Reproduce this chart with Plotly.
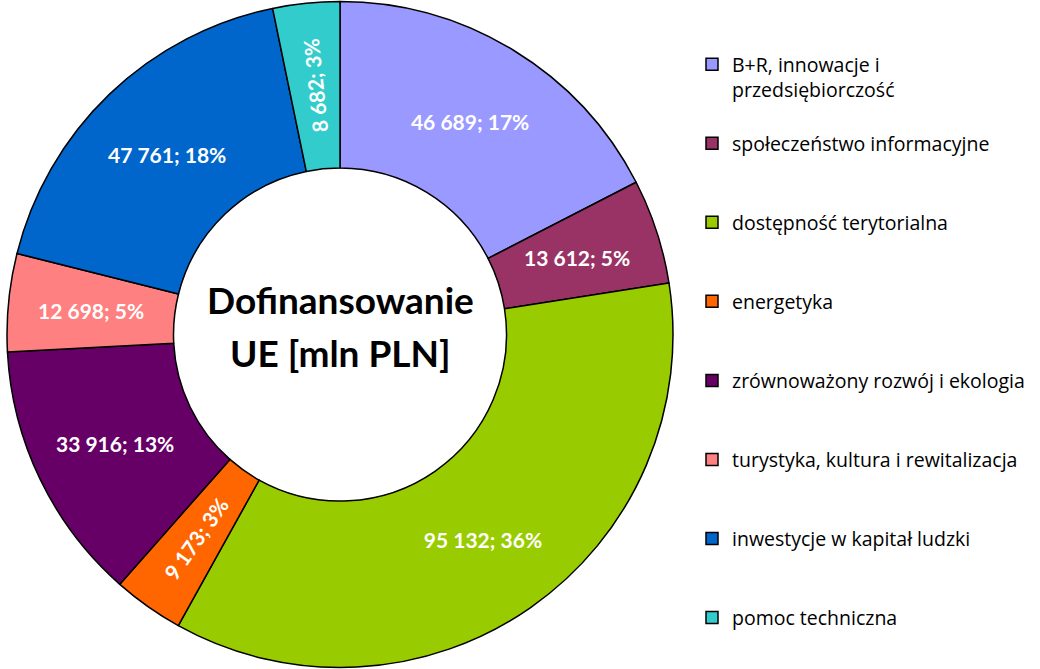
import math
import plotly.graph_objects as go

categories = [
    "B+R, innowacje i<br>przedsiębiorczość",
    "społeczeństwo informacyjne",
    "dostępność terytorialna",
    "energetyka",
    "zrównoważony rozwój i ekologia",
    "turystyka, kultura i rewitalizacja",
    "inwestycje w kapitał ludzki",
    "pomoc techniczna",
]
values = [46689, 13612, 95132, 9173, 33916, 12698, 47761, 8682]
colors = ["#9999FF", "#993366", "#99CC00", "#FF6600", "#660066", "#FF8080", "#0066CC", "#33CCCC"]
# how each slice label is drawn: "pie" = by the pie itself, "h" = horizontal annotation, "r" = radial annotation
label_mode = ["pie", "h", "pie", "r", "pie", "h", "pie", "r"]

W, H = 1040, 669
PAD = "<br>\u00a0"
legend_labels = []
for i, c in enumerate(categories):
    if i == len(categories) - 1:
        legend_labels.append(c)
    elif "<br>" in c:
        legend_labels.append(c + PAD)
    else:
        legend_labels.append(c + PAD + PAD)

tmpl = "%{value:,}; %{percent:.0%}"
dom_x = [7 / W, 673 / W]
dom_y = [0.0, 1.0]
HOLE = 0.5
LABEL_FONT = dict(family="Lato", size=21, color="white", weight="bold")

fig = go.Figure()
fig.add_trace(go.Pie(
    labels=legend_labels,
    values=values,
    sort=False,
    direction="clockwise",
    hole=HOLE,
    domain=dict(x=dom_x, y=dom_y),
    marker=dict(colors=colors, line=dict(color="black", width=1.5)),
    texttemplate=[tmpl if m == "pie" else "" for m in label_mode],
    textposition="inside",
    insidetextorientation="horizontal",
    textfont=LABEL_FONT,
    hoverinfo="label+value+percent",
))

# labels of the narrow slices, placed at each slice's mid-angle on the middle of the ring
total = sum(values)
cx = (dom_x[0] + dom_x[1]) / 2 * W
cy = (1 - (dom_y[0] + dom_y[1]) / 2) * H
R = min((dom_x[1] - dom_x[0]) * W, (dom_y[1] - dom_y[0]) * H) / 2
r_mid = R * (1 + HOLE) / 2
cum = 0
for v, m in zip(values, label_mode):
    theta = (cum + v / 2) / total * 2 * math.pi  # clockwise from 12 o'clock
    cum += v
    if m == "pie":
        continue
    px = cx + r_mid * math.sin(theta)
    py = cy - r_mid * math.cos(theta)
    ang = 0
    if m == "r":
        ang = math.degrees(theta) - 90
        while ang > 180:
            ang -= 360
        if ang > 90:
            ang -= 180
    txt = f"{v:,}".replace(",", " ") + f"; {round(v / total * 100)}%"
    fig.add_annotation(
        text=txt, x=px / W, y=1 - py / H, xref="paper", yref="paper",
        showarrow=False, textangle=ang, font=LABEL_FONT,
        xanchor="center", yanchor="middle",
    )

center_lines = ["Dofinansowanie", "UE [mln PLN]"]
for i, line in enumerate(center_lines):
    fig.add_annotation(
        text=line, x=cx / W, y=1 - (cy - 35 + 53 * i) / H, xref="paper", yref="paper",
        showarrow=False, xanchor="center", yanchor="middle",
        font=dict(family="Lato", size=37, color="black", weight="bold"),
    )

fig.update_layout(
    width=W, height=H,
    margin=dict(l=0, r=0, t=0, b=0),
    paper_bgcolor="white",
    separators=", ",
    showlegend=True,
    legend=dict(
        x=692 / W, xanchor="left",
        y=1 - 45 / H, yanchor="top",
        valign="top",
        font=dict(family="Open Sans", size=19.5, color="black"),
        bgcolor="rgba(0,0,0,0)",
    ),
)

fig.write_html(
    "out.html",
    config={"displayModeBar": False},
    post_script="document.body.style.margin='0px';",
)
